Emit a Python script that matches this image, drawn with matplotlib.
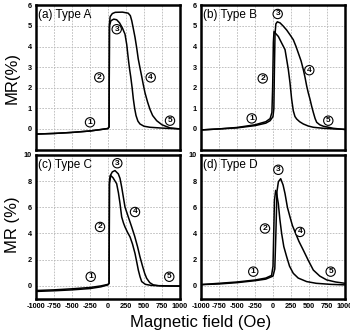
import numpy as np
import matplotlib
matplotlib.use('Agg')
import matplotlib.pyplot as plt

plt.rcParams['font.family'] = ['Liberation Sans', 'DejaVu Sans']
plt.rcParams['axes.unicode_minus'] = False

# ---- dados (campo em Oe, MR em %) ----
# (a) Type A
a_x1 = [-1000, -750, -500, -250, -100, 0, 15, 20, 30, 60, 100, 200, 280, 310, 330, 350, 375,
        400, 420, 445, 468, 490, 514, 550, 583, 620, 676, 750, 861, 1000]
a_y1 = [-0.25, -0.22, -0.17, -0.1, -0.03, 0.02, 0.1, 5.1, 5.45, 5.6, 5.66, 5.67, 5.62, 5.5, 5.25,
        4.9, 4.45, 3.9, 3.4, 2.95, 2.55, 2.15, 1.75, 1.3, 0.95, 0.65, 0.4, 0.2, 0.05, 0.0]
a_x2 = [-1000, -750, -500, -250, -100, 0, 15, 20, 40, 80, 120, 160, 200, 236, 260, 282, 300, 315,
        335, 352, 370, 389, 415, 444, 500, 583, 750, 1000]
a_y2 = [-0.25, -0.22, -0.17, -0.1, -0.03, 0.02, 0.1, 5.0, 5.25, 5.33, 5.3, 5.15, 4.9, 4.6, 4.1,
        3.4, 2.9, 2.55, 2.0, 1.45, 1.0, 0.65, 0.38, 0.24, 0.13, 0.08, 0.04, 0.0]

# (b) Type B
b_x1 = [-1000, -750, -500, -250, -100, -40, 0, 12, 20, 28, 40, 60, 97, 140, 190, 240, 282, 320,
        351, 390, 421, 445, 468, 490, 514, 537, 560, 585, 607, 650, 699, 838, 1000]
b_y1 = [-0.05, 0.0, 0.05, 0.16, 0.28, 0.4, 0.6, 1.0, 3.0, 4.6, 5.1, 5.2, 5.15, 5.0, 4.8, 4.55,
        4.33, 4.0, 3.69, 3.3, 2.88, 2.5, 2.08, 1.75, 1.44, 1.1, 0.8, 0.5, 0.32, 0.2, 0.13, 0.03, -0.03]
b_x2 = [-1000, -750, -500, -250, -100, -40, -15, -5, 5, 14, 40, 74, 120, 167, 190, 213, 236, 259,
        282, 305, 329, 370, 421, 490, 560, 700, 850, 1000]
b_y2 = [-0.05, 0.0, 0.07, 0.2, 0.35, 0.5, 0.8, 2.0, 4.2, 4.73, 4.62, 4.49, 4.17, 3.85, 3.37, 2.88,
        2.24, 1.44, 0.88, 0.6, 0.48, 0.35, 0.24, 0.14, 0.08, 0.03, 0.0, -0.02]

# (c) Type C
c_x1 = [-1000, -750, -500, -250, -100, 0, 15, 20, 30, 60, 97, 143, 167, 190, 236, 282, 329, 370,
        410, 444, 480, 510, 537, 580, 629, 700, 850, 1000]
c_y1 = [-0.35, -0.3, -0.22, -0.12, 0.0, 0.12, 0.2, 8.0, 8.4, 8.7, 8.8, 8.55, 8.2, 7.54, 6.02,
        5.26, 4.5, 3.8, 3.0, 2.22, 1.5, 0.95, 0.58, 0.25, 0.08, 0.02, 0.0, 0.0]
c_x2 = [-1000, -750, -500, -250, -100, 0, 15, 20, 37, 70, 120, 145, 167, 190, 215, 236, 270, 306,
        340, 375, 400, 421, 445, 468, 520, 600, 750, 1000]
c_y2 = [-0.42, -0.37, -0.3, -0.2, -0.07, 0.08, 0.2, 7.8, 8.43, 8.25, 7.8, 7.1, 6.28, 5.26, 4.8,
        4.5, 4.1, 3.74, 3.2, 2.48, 1.8, 1.21, 0.7, 0.33, 0.12, 0.04, 0.0, -0.02]

# (d) Type D
d_x1 = [-1000, -750, -500, -250, -100, 0, 25, 40, 55, 75, 107, 140, 167, 200, 236, 270, 306, 360,
        421, 490, 560, 650, 745, 870, 1000]
d_y1 = [0.1, 0.15, 0.25, 0.4, 0.52, 0.75, 1.3, 4.0, 7.2, 7.95, 8.18, 7.7, 7.04, 6.0, 5.26, 4.6,
        4.12, 3.4, 2.73, 1.95, 1.21, 0.75, 0.46, 0.3, 0.2]
d_x2 = [-1000, -750, -500, -250, -100, -20, 0, 10, 20, 37, 55, 74, 95, 120, 150, 190, 230, 282,
        350, 468, 600, 800, 1000]
d_y2 = [0.1, 0.2, 0.3, 0.45, 0.6, 0.8, 1.5, 4.0, 6.5, 7.29, 6.9, 6.28, 5.1, 4.0, 3.0, 2.22, 1.5,
        0.96, 0.6, 0.33, 0.2, 0.12, 0.08]

# posições dos números circulados 1..5
a_lab = [(-250, 0.32), (-121, 2.5), (121, 4.84), (593, 2.5), (861, 0.4)]
b_lab = [(-296, 0.51), (-143, 2.45), (65, 5.58), (504, 2.85), (768, 0.4)]
c_lab = [(-240, 0.7), (-111, 4.5), (129, 9.36), (375, 5.64), (851, 0.7)]
d_lab = [(-274, 1.09), (-111, 4.38), (74, 8.86), (375, 4.12), (801, 1.09)]

titulos = ['(a) Type A', '(b) Type B', '(c) Type C', '(d) Type D']
x_ticks = [-1000, -750, -500, -250, 0, 250, 500, 750, 1000]

paineis = [
    (a_x1, a_y1, a_x2, a_y2, a_lab, (-1, 6), range(0, 7)),
    (b_x1, b_y1, b_x2, b_y2, b_lab, (-1, 6), range(0, 7)),
    (c_x1, c_y1, c_x2, c_y2, c_lab, (-1, 10), range(0, 11, 2)),
    (d_x1, d_y1, d_x2, d_y2, d_lab, (-1, 10), range(0, 11, 2)),
]

# posições dos eixos em fração da figura (350x333 px)
posicoes = [
    [36 / 350, 0.551, 144 / 350, 0.433],
    [201 / 350, 0.551, 144 / 350, 0.433],
    [36 / 350, 0.102, 144 / 350, 0.433],
    [201 / 350, 0.102, 144 / 350, 0.433],
]

fig = plt.figure(figsize=(3.5, 3.33), dpi=100)

for i, (x1, y1, x2, y2, labs, ylim, yt) in enumerate(paineis):
    ax = fig.add_axes(posicoes[i])
    ax.plot(x1, y1, color='black', lw=1.1)
    ax.plot(x2, y2, color='black', lw=1.1)
    ax.set_xlim(-1000, 1000)
    ax.set_ylim(*ylim)
    ax.set_xticks(x_ticks)
    ax.set_yticks(list(yt))
    ax.grid(True, color='#b8b8b8', linestyle=(0, (2, 1.5)), lw=0.6)
    ax.set_axisbelow(True)
    for s in ax.spines.values():
        s.set_linewidth(1.8)
    ax.tick_params(length=0, pad=3, labelsize=5.3)
    for lab in ax.get_yticklabels() + ax.get_xticklabels():
        lab.set_fontweight('bold')
    if i < 2:
        ax.set_xticklabels([])
    else:
        ax.set_xticklabels([str(t) for t in x_ticks])
        ax.tick_params(axis='x', pad=2.5)
    ax.text(0.017, 0.93, titulos[i], transform=ax.transAxes, fontsize=8.5,
            ha='left', va='center')
    for n, (lx, ly) in enumerate(labs):
        ax.text(lx, ly, str(n + 1), fontsize=6, fontweight='bold', ha='center', va='center',
                bbox=dict(boxstyle='circle,pad=0.14', fc='white', ec='black', lw=0.8))

fig.text(0.036, 0.766, 'MR(%)', rotation=90, fontsize=12, ha='center', va='center')
fig.text(0.036, 0.324, 'MR (%)', rotation=90, fontsize=12, ha='center', va='center')
fig.text(0.572, 0.031, 'Magnetic field (Oe)', fontsize=12, ha='center', va='center')

fig.savefig('out.png', dpi=100)
